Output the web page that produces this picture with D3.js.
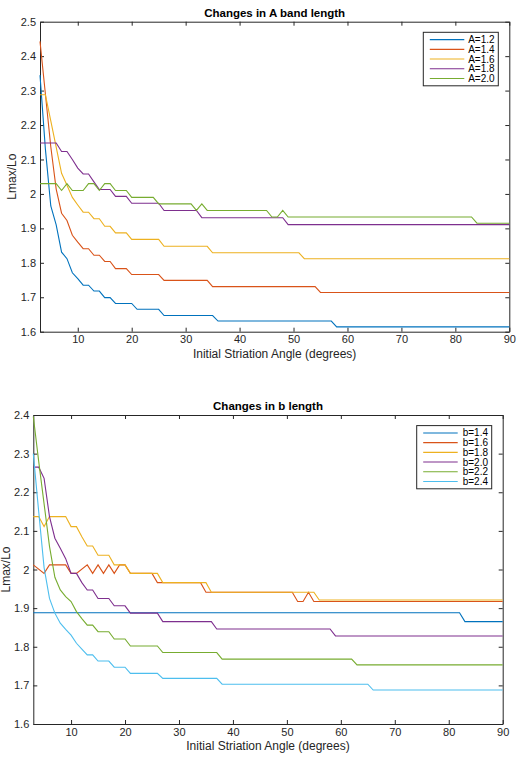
<!DOCTYPE html>
<html>
<head>
<meta charset="utf-8">
<script src="https://d3js.org/d3.v7.min.js"></script>
<style>
  body { margin: 0; background: #fff; }
  svg { display: block; font-family: "Liberation Sans", Arial, Helvetica, sans-serif; }
  .axis text { font-size: 11px; fill: #262626; }
  .axis path, .axis line { stroke: #262626; stroke-width: 1; }
  .title { font-size: 11.5px; font-weight: bold; fill: #000; }
  .label { font-size: 12px; fill: #262626; }
  .legend text { font-size: 10px; fill: #000; }
</style>
</head>
<body>
<svg width="517" height="767"></svg>
<script>
// MATLAB default colour order
const colors = ["#0072BD", "#D95319", "#EDB120", "#7E2F8E", "#77AC30", "#4DBEEE"];

const angleTicks = [10, 20, 30, 40, 50, 60, 70, 80, 90];
const ratioTicksA = [1.6, 1.7, 1.8, 1.9, 2.0, 2.1, 2.2, 2.3, 2.4, 2.5];
const ratioTicksB = [1.6, 1.7, 1.8, 1.9, 2.0, 2.1, 2.2, 2.3, 2.4];

// Changes in A band length: [angle, Lmax/Lo] at each corner of the curves
const labelsA = ["A=1.2", "A=1.4", "A=1.6", "A=1.8", "A=2.0"];
const a12 = [[3,2.345],[4,2.13],[5,1.965],[6,1.91],[7,1.831],[8,1.812],[9,1.771],[10,1.754],[11,1.735],[12,1.735],[13,1.718],[14,1.718],[15,1.699],[16,1.699],[17,1.682],[20,1.682],[21,1.665],[25,1.665],[26,1.647],[35,1.647],[36,1.631],[57,1.631],[58,1.614],[90,1.614]];
const a14 = [[3,2.443],[4,2.29],[5,2.137],[6,2.014],[7,1.944],[8,1.923],[9,1.88],[10,1.86],[11,1.841],[12,1.841],[13,1.822],[14,1.822],[15,1.804],[16,1.804],[17,1.783],[19,1.783],[20,1.766],[25,1.766],[26,1.749],[34,1.749],[35,1.731],[54,1.731],[55,1.714],[90,1.714]];
const a16 = [[3,2.288],[4,2.288],[5,2.212],[6,2.136],[7,2.06],[8,2.025],[9,1.99],[10,1.968],[11,1.947],[12,1.947],[13,1.928],[14,1.928],[15,1.906],[16,1.906],[17,1.887],[19,1.887],[20,1.868],[25,1.868],[26,1.848],[34,1.848],[35,1.829],[51,1.829],[52,1.812],[90,1.812]];
const a18 = [[3,2.148],[6,2.148],[7,2.123],[8,2.123],[9,2.1],[10,2.075],[11,2.058],[12,2.058],[13,2.035],[14,2.013],[16,2.013],[17,1.993],[19,1.993],[20,1.973],[25,1.973],[26,1.952],[32,1.952],[33,1.931],[48,1.931],[49,1.911],[90,1.911]];
const a20 = [[3,2.03],[6,2.03],[7,2.01],[8,2.03],[9,2.01],[11,2.01],[12,2.03],[13,2.03],[14,2.01],[15,2.03],[16,2.03],[17,2.01],[19,2.01],[20,1.99],[24,1.99],[25,1.971],[31,1.971],[32,1.952],[33,1.971],[34,1.952],[45,1.952],[46,1.933],[47,1.933],[48,1.952],[49,1.933],[83,1.933],[84,1.915],[90,1.915]];

// Changes in b length
const labelsB = ["b=1.4", "b=1.6", "b=1.8", "b=2.0", "b=2.2", "b=2.4"];
const b14 = [[3,1.888],[82,1.888],[83,1.865],[90,1.865]];
const b16 = [[3,2.012],[5,1.99],[6,2.012],[9,2.012],[10,1.99],[11,1.99],[13,2.012],[14,1.99],[15,2.012],[16,1.99],[17,2.012],[18,1.99],[19,2.012],[20,2.012],[21,1.99],[25,1.99],[26,1.966],[34,1.966],[35,1.941],[51,1.941],[52,1.917],[53,1.917],[54,1.941],[55,1.917],[90,1.917]];
const b18 = [[3,2.137],[4,2.137],[5,2.111],[6,2.137],[9,2.137],[10,2.111],[11,2.111],[12,2.085],[13,2.061],[14,2.061],[15,2.037],[17,2.037],[18,2.012],[20,2.012],[21,1.99],[26,1.99],[27,1.966],[35,1.966],[36,1.941],[55,1.941],[56,1.921],[90,1.921]];
const b20 = [[3,2.265],[4,2.265],[5,2.236],[6,2.137],[7,2.081],[8,2.055],[9,2.028],[10,1.99],[11,1.99],[12,1.966],[13,1.947],[14,1.947],[15,1.925],[17,1.925],[18,1.906],[20,1.906],[21,1.887],[26,1.887],[27,1.865],[36,1.865],[37,1.846],[58,1.846],[59,1.828],[90,1.828]];
const b22 = [[3,2.396],[4,2.28],[5,2.17],[6,2.06],[7,1.98],[8,1.947],[9,1.93],[10,1.917],[11,1.891],[12,1.873],[13,1.856],[14,1.856],[15,1.839],[17,1.839],[18,1.82],[20,1.82],[21,1.802],[26,1.802],[27,1.785],[37,1.785],[38,1.768],[62,1.768],[63,1.753],[90,1.753]];
const b24 = [[3,2.3],[4,2.15],[5,2.005],[6,1.925],[7,1.887],[8,1.861],[9,1.845],[10,1.83],[11,1.809],[12,1.794],[13,1.779],[14,1.779],[15,1.763],[17,1.763],[18,1.747],[20,1.747],[21,1.731],[26,1.731],[27,1.718],[37,1.718],[38,1.703],[65,1.703],[66,1.688],[90,1.688]];

const svg = d3.select("svg");

function drawPanel(p) {
  const x = d3.scaleLinear().domain([3, 90]).range([p.left, p.right]);
  const y = d3.scaleLinear().domain([1.6, p.yMax]).range([p.bottom, p.top]);
  const fmt = d => String(+d.toFixed(1));

  // box with inward ticks, labels only on left and bottom
  svg.append("g").attr("class", "axis")
    .attr("transform", `translate(0,${p.bottom})`)
    .call(d3.axisBottom(x).tickValues(angleTicks).tickSizeInner(-4).tickSizeOuter(0).tickPadding(4));
  svg.append("g").attr("class", "axis")
    .attr("transform", `translate(0,${p.top})`)
    .call(d3.axisTop(x).tickValues(angleTicks).tickSizeInner(-4).tickSizeOuter(0).tickFormat(""));
  svg.append("g").attr("class", "axis")
    .attr("transform", `translate(${p.left},0)`)
    .call(d3.axisLeft(y).tickValues(p.yTicks).tickSizeInner(-4).tickSizeOuter(0).tickPadding(4).tickFormat(fmt));
  svg.append("g").attr("class", "axis")
    .attr("transform", `translate(${p.right},0)`)
    .call(d3.axisRight(y).tickValues(p.yTicks).tickSizeInner(-4).tickSizeOuter(0).tickFormat(""));

  const line = d3.line().x(d => x(d[0])).y(d => y(d[1]));
  p.series.forEach((s, i) => {
    svg.append("path")
      .attr("d", line(s))
      .attr("fill", "none")
      .attr("stroke", colors[i])
      .attr("stroke-width", 1.1);
  });

  const cx = (p.left + p.right) / 2;
  svg.append("text").attr("class", "title")
    .attr("x", cx).attr("y", p.top - 5.2)
    .attr("text-anchor", "middle").text(p.title);
  svg.append("text").attr("class", "label")
    .attr("x", cx).attr("y", p.bottom + 26)
    .attr("text-anchor", "middle").text("Initial Striation Angle (degrees)");
  svg.append("text").attr("class", "label")
    .attr("transform", `translate(${p.left - 28},${(p.top + p.bottom) / 2}) rotate(-90)`)
    .attr("dy", "0.35em")
    .attr("text-anchor", "middle").text("Lmax/Lo");

  // legend
  const rowH = 9.7, lw = 75;
  const lx1 = p.right - 11, lx0 = lx1 - lw, ly0 = p.top + 10.6;
  const lg = svg.append("g").attr("class", "legend");
  lg.append("rect")
    .attr("x", lx0).attr("y", ly0)
    .attr("width", lw).attr("height", p.labels.length * rowH + 5)
    .attr("fill", "#fff").attr("stroke", "#262626").attr("stroke-width", 1);
  p.labels.forEach((t, i) => {
    const ry = ly0 + 2.5 + rowH * (i + 0.5);
    lg.append("line")
      .attr("x1", lx0 + 6.5).attr("x2", lx0 + 41)
      .attr("y1", ry).attr("y2", ry)
      .attr("stroke", colors[i]).attr("stroke-width", 1.1);
    lg.append("text")
      .attr("x", lx1 - 3.7).attr("y", ry).attr("dy", "0.35em")
      .attr("text-anchor", "end").text(t);
  });
}

drawPanel({
  left: 40, right: 509.3, top: 21.7, bottom: 331.7, yMax: 2.5, yTicks: ratioTicksA,
  title: "Changes in A band length", labels: labelsA,
  series: [a12, a14, a16, a18, a20]
});
drawPanel({
  left: 33.3, right: 502.7, top: 415, bottom: 724, yMax: 2.4, yTicks: ratioTicksB,
  title: "Changes in b length", labels: labelsB,
  series: [b14, b16, b18, b20, b22, b24]
});
</script>
</body>
</html>
